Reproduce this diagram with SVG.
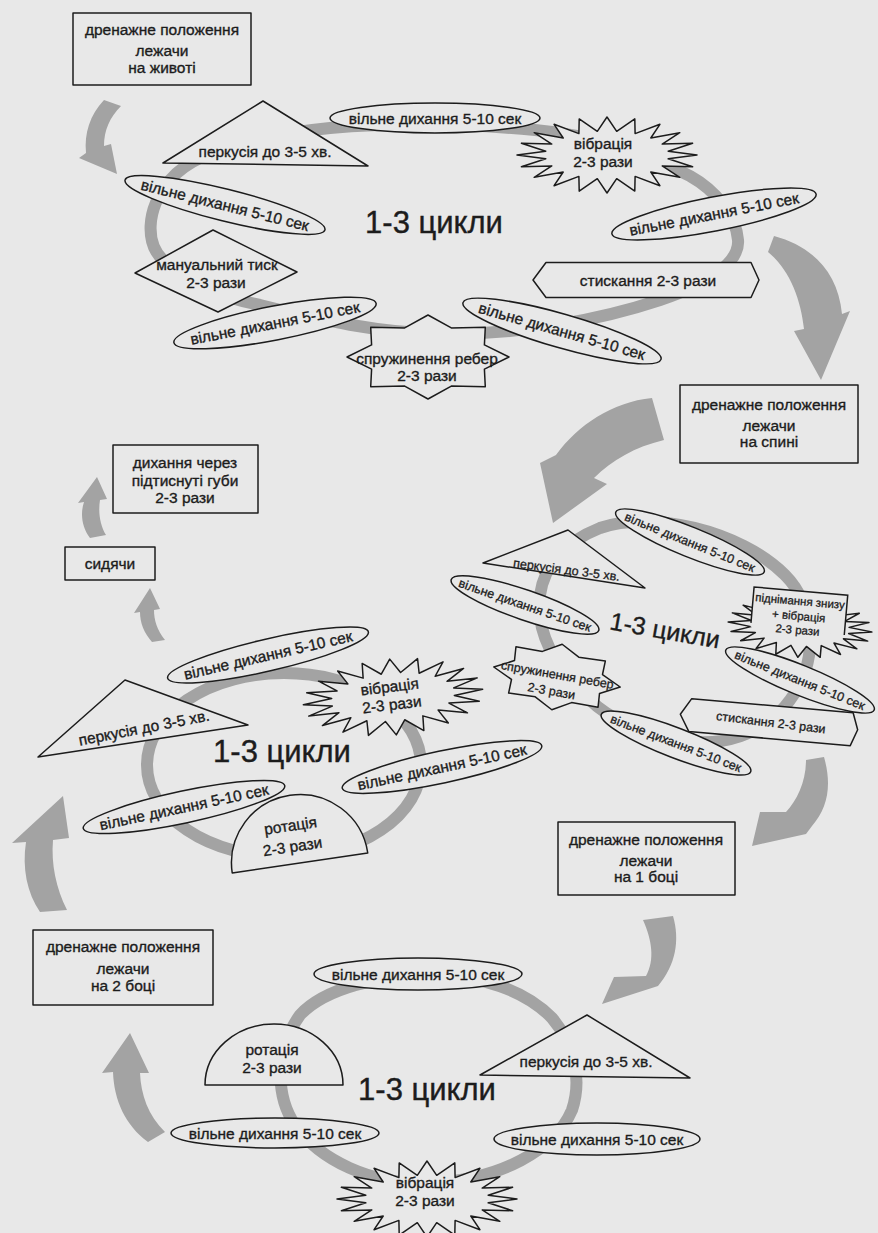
<svg xmlns="http://www.w3.org/2000/svg" xmlns:xlink="http://www.w3.org/1999/xlink" width="878" height="1233" viewBox="0 0 878 1233">
<style>
.nd{fill:#e8e8e8;stroke:#1c1c1c;stroke-width:1.5;stroke-linejoin:round}
.t{font-family:"Liberation Sans",Arial,sans-serif;font-size:15.5px;fill:#1c1c1c;stroke:#1c1c1c;stroke-width:0.35;text-anchor:middle}
.ts{font-size:12.5px;stroke-width:0.3}
.tx{font-size:11.5px;stroke-width:0.3}
.big{font-size:31px;stroke-width:0.4}
.ring{fill:none;stroke:#a3a3a3;stroke-width:12}
.arr{fill:#a3a3a3}
</style>
<defs>
<path id="burst" vector-effect="non-scaling-stroke" d="M90,0 L61.2,3.8 L85.6,11.7 L55.2,10.9 L72.8,22.3 L43.8,17 L52.9,30.7 L28.1,21.4 L27.8,36.1 L9.7,23.7 L0,38 L-9.7,23.7 L-27.8,36.1 L-28.1,21.4 L-52.9,30.7 L-43.8,17 L-72.8,22.3 L-55.2,10.9 L-85.6,11.7 L-61.2,3.8 L-90,0 L-61.2,-3.8 L-85.6,-11.7 L-55.2,-10.9 L-72.8,-22.3 L-43.8,-17 L-52.9,-30.7 L-28.1,-21.4 L-27.8,-36.1 L-9.7,-23.7 L0,-38 L9.7,-23.7 L27.8,-36.1 L28.1,-21.4 L52.9,-30.7 L43.8,-17 L72.8,-22.3 L55.2,-10.9 L85.6,-11.7 L61.2,-3.8 Z"/>
<path id="star8" vector-effect="non-scaling-stroke" d="M0,-42 L23.3,-29.1 L57.3,-29.7 L56.4,-12.1 L81,0 L56.4,12.1 L57.3,29.7 L23.3,29.1 L0,42 L-23.3,29.1 L-57.3,29.7 L-56.4,12.1 L-81,0 L-56.4,-12.1 L-57.3,-29.7 L-23.3,-29.1 Z"/>
</defs>
<rect x="0" y="0" width="878" height="1233" fill="#e8e8e8"/>

<g id="connectors">
  <path class="ring" d="M330,128 C260,135 195,150 170,180 C145,210 145,245 165,262 C190,285 225,298 260,305 C320,320 380,333 440,334 C520,335 600,320 660,300 C710,283 740,262 738,240 C736,215 715,190 690,176 C640,150 590,135 535,130 C470,124 400,122 330,128 Z"/>
  <path class="ring" d="M600,528 C650,510 740,530 785,575 C815,605 820,660 790,700 C765,735 720,748 680,740 C640,732 610,720 590,700 C555,670 535,630 540,595 C545,560 570,540 600,528 Z"/>
  <ellipse class="ring" cx="284" cy="765" rx="137" ry="92"/>
  <path class="ring" d="M430,975 C480,975 525,990 552,1018 C575,1045 582,1080 572,1110 C555,1150 500,1180 430,1183 C370,1185 320,1160 295,1125 C275,1095 275,1050 300,1015 C325,988 380,975 430,975 Z"/>
  <path class="arr" d="M104,100 L121,106 C110,117 104,130 104,146 L111,144 L117,174 L79,158 L86,153 C84,133 90,115 104,100 Z"/>
  <path class="arr" d="M774,236 C812,246 838,272 842,314 L850,311 L821,380 L794,331 L804,329 C801,300 790,270 768,252 Z"/>
  <path class="arr" d="M652,398 C612,402 578,425 556,455 L540,463 L553,523 L607,484 L594,478 C612,460 635,447 664,440 Z"/>
  <path class="arr" d="M806,760 L824,757 C832,785 828,808 812,826 L806,834 L752,846 L760,812 L786,812 C797,800 806,782 806,760 Z"/>
  <path class="arr" d="M643,920 L673,916 C680,940 676,965 658,986 L602,1004 L614,977 L646,976 C655,960 652,940 643,920 Z"/>
  <path class="arr" d="M113,1072 L102,1073 L130,1033 L149,1073 L140,1073 C141,1095 148,1115 165,1132 L148,1142 C125,1125 114,1100 113,1072 Z"/>
  <path class="arr" d="M40,912 C27,893 22,868 26,842 L12,843 L63,796 L69,838 L53,840 C51,864 56,888 67,910 Z"/>
  <path class="arr" d="M140,612 L134,613 L150,588 L160,609 L154,610 C154,620 157,630 165,640 L152,642 C144,633 140,623 140,612 Z"/>
  <path class="arr" d="M90,538 C82,527 80,514 84,502 L78,503 L97,477 L107,499 L100,500 C98,512 100,525 106,535 Z"/>
</g>

<!-- top cycle -->
<g id="n-zhyvit"><rect class="nd" x="73" y="13" width="178" height="72"/><text class="t" x="162" y="35">дренажне положення</text><text class="t" x="162" y="56">лежачи</text><text class="t" x="162" y="73">на животі</text></g>
<g id="n-perk1"><polygon class="nd" points="263,101 163,163 368,166"/><text class="t" x="265" y="157">перкусія до 3-5 хв.</text></g>
<g id="n-vd1" transform="translate(435,118)"><ellipse class="nd" rx="105" ry="15"/><text class="t" y="5.5">вільне дихання 5-10 сек</text></g>
<g id="n-vib1"><use href="#burst" xlink:href="#burst" class="nd" transform="translate(607,155)"/><text class="t" x="603" y="149">вібрація</text><text class="t" x="603" y="167">2-3 рази</text></g>
<g id="n-vd2" transform="translate(714,214) rotate(-11)"><ellipse class="nd" rx="104" ry="17"/><text class="t" y="5.5">вільне дихання 5-10 сек</text></g>
<g id="n-stysk1" transform="translate(646,280)"><path class="nd" d="M-113,0 L-100,-17.5 L105,-17.5 L113,0 L105,17.5 L-100,17.5 Z"/><text class="t" x="2" y="5.5">стискання 2-3 рази</text></g>
<g id="n-vd3" transform="translate(562,331) rotate(16)"><ellipse class="nd" rx="103" ry="17"/><text class="t" y="5.5">вільне дихання 5-10 сек</text></g>
<g id="n-spruzh1"><use href="#star8" xlink:href="#star8" class="nd" transform="translate(428,357)"/><text class="t" x="427" y="364">спружинення ребер</text><text class="t" x="427" y="381">2-3 рази</text></g>
<g id="n-vd4" transform="translate(275,323) rotate(-11)"><ellipse class="nd" rx="103" ry="17"/><text class="t" y="5.5">вільне дихання 5-10 сек</text></g>
<g id="n-man"><polygon class="nd" points="213,230 297,272 218,312 135,273"/><text class="t" x="217" y="270">мануальний тиск</text><text class="t" x="216" y="288">2-3 рази</text></g>
<g id="n-vd5" transform="translate(225,205) rotate(14)"><ellipse class="nd" rx="103" ry="16"/><text class="t" y="5.5">вільне дихання 5-10 сек</text></g>
<g id="lbl-cycle1"><text class="t big" x="434" y="233">1-3 цикли</text></g>

<g id="n-spyna"><rect class="nd" x="680" y="385" width="178" height="78"/><text class="t" x="769" y="410">дренажне положення</text><text class="t" x="769" y="431">лежачи</text><text class="t" x="769" y="447">на спині</text></g>

<!-- mid-right cycle -->
<g id="n-vd6" transform="translate(690,542) rotate(22)"><ellipse class="nd" rx="80" ry="15"/><text class="t ts" y="4.5">вільне дихання 5-10 сек</text></g>
<g id="n-perk2"><polygon class="nd" points="568,530 483,563 645,588"/><text class="t ts" transform="translate(566,574) rotate(7.5)">перкусія до 3-5 хв.</text></g>
<g id="n-vd7" transform="translate(525,605) rotate(19)"><ellipse class="nd" rx="78" ry="15"/><text class="t ts" y="4.5">вільне дихання 5-10 сек</text></g>
<g id="n-spruzh2"><use href="#star8" xlink:href="#star8" class="nd" transform="translate(557,677) rotate(9) scale(0.79)"/><g transform="translate(557,677) rotate(10)"><text class="t ts" x="0" y="2">спружинення ребер</text><text class="t ts" x="-3" y="19">2-3 рази</text></g></g>
<g id="n-vd8" transform="translate(676,743) rotate(21)"><ellipse class="nd" rx="80" ry="15"/><text class="t ts" y="4.5">вільне дихання 5-10 сек</text></g>
<g id="n-stysk2" transform="translate(769,722) rotate(5)"><path class="nd" d="M-89,0 L-79,-16.5 L83,-16.5 L89,0 L83,16.5 L-79,16.5 Z"/><text class="t ts" x="2" y="4.5" transform="rotate(2)">стискання 2-3 рази</text></g>
<g id="n-vd9" transform="translate(800,680) rotate(22)"><ellipse class="nd" rx="80" ry="15"/><text class="t ts" y="4.5">вільне дихання 5-10 сек</text></g>
<g id="n-pidn"><use href="#burst" xlink:href="#burst" class="nd" transform="translate(800,627) rotate(4) scale(0.8)"/><g transform="translate(799,613) rotate(5)"><rect x="-47" y="-22" width="94" height="40" fill="#e8e8e8"/><polyline points="-47,14 -47,-22 47,-22 47,18" fill="none" stroke="#1c1c1c" stroke-width="1.5"/><text class="t tx" y="-8">піднімання знизу</text><text class="t tx" y="7">+ вібрація</text><text class="t tx" y="21">2-3 рази</text></g></g>
<g id="lbl-cycle2"><text class="t" style="font-size:25px" transform="translate(665,630) rotate(10)" y="9">1-3 цикли</text></g>

<g id="n-bik1"><rect class="nd" x="558" y="822" width="177" height="73"/><text class="t" x="646" y="845">дренажне положення</text><text class="t" x="646" y="866">лежачи</text><text class="t" x="646" y="882">на 1 боці</text></g>

<!-- left column -->
<g id="n-guby"><rect class="nd" x="113" y="445" width="145" height="68"/><text class="t" x="185" y="468">дихання через</text><text class="t" x="185" y="486">підтиснуті губи</text><text class="t" x="185" y="503">2-3 рази</text></g>
<g id="n-sydiachy"><rect class="nd" x="65" y="547" width="90" height="33"/><text class="t" x="110" y="569">сидячи</text></g>

<!-- mid-left cycle -->
<g id="n-vd10" transform="translate(268,655) rotate(-13)"><ellipse class="nd" rx="103" ry="16"/><text class="t" y="5.5">вільне дихання 5-10 сек</text></g>
<g id="n-vib2"><use href="#burst" xlink:href="#burst" class="nd" transform="translate(393,697) rotate(-5)"/><g transform="translate(391,698) rotate(-7)"><text class="t" y="-6">вібрація</text><text class="t" y="12">2-3 рази</text></g></g>
<g id="n-perk3"><polygon class="nd" points="125,680 38,757 248,725"/><text class="t" transform="translate(145,733) rotate(-11)">перкусія до 3-5 хв.</text></g>
<g id="lbl-cycle3"><text class="t big" x="282" y="762">1-3 цикли</text></g>
<g id="n-vd11" transform="translate(184,807) rotate(-12)"><ellipse class="nd" rx="103" ry="16"/><text class="t" y="5.5">вільне дихання 5-10 сек</text></g>
<g id="n-rot1" transform="translate(300,863) rotate(-8.4)"><path class="nd" d="M-68.5,0 A68.5,68.5 0 0 1 68.5,0 Z"/><text class="t" x="-4" y="-33">ротація</text><text class="t" x="-5" y="-12">2-3 рази</text></g>
<g id="n-vd12" transform="translate(442,767) rotate(-12)"><ellipse class="nd" rx="102" ry="16"/><text class="t" y="5.5">вільне дихання 5-10 сек</text></g>

<!-- bottom cycle -->
<g id="n-bik2"><rect class="nd" x="33" y="930" width="180" height="75"/><text class="t" x="123" y="952">дренажне положення</text><text class="t" x="123" y="974">лежачи</text><text class="t" x="123" y="991">на 2 боці</text></g>
<g id="n-vd13" transform="translate(418,974)"><ellipse class="nd" rx="104" ry="16"/><text class="t" y="5.5">вільне дихання 5-10 сек</text></g>
<g id="n-rot2" transform="translate(274,1085)"><path class="nd" d="M-69,0 A69,61 0 0 1 69,0 Z"/><text class="t" x="-2" y="-30">ротація</text><text class="t" x="-2" y="-12">2-3 рази</text></g>
<g id="lbl-cycle4"><text class="t big" x="427" y="1100">1-3 цикли</text></g>
<g id="n-perk4"><polygon class="nd" points="587,1015 480,1075 690,1078"/><text class="t" x="586" y="1067">перкусія до 3-5 хв.</text></g>
<g id="n-vd14" transform="translate(597,1139)"><ellipse class="nd" rx="103" ry="16"/><text class="t" y="5.5">вільне дихання 5-10 сек</text></g>
<g id="n-vd15" transform="translate(275,1133)"><ellipse class="nd" rx="104" ry="15"/><text class="t" y="5.5">вільне дихання 5-10 сек</text></g>
<g id="n-vib3"><use href="#burst" xlink:href="#burst" class="nd" transform="translate(427,1199)"/><text class="t" x="425" y="1188">вібрація</text><text class="t" x="425" y="1206">2-3 рази</text></g>
</svg>
